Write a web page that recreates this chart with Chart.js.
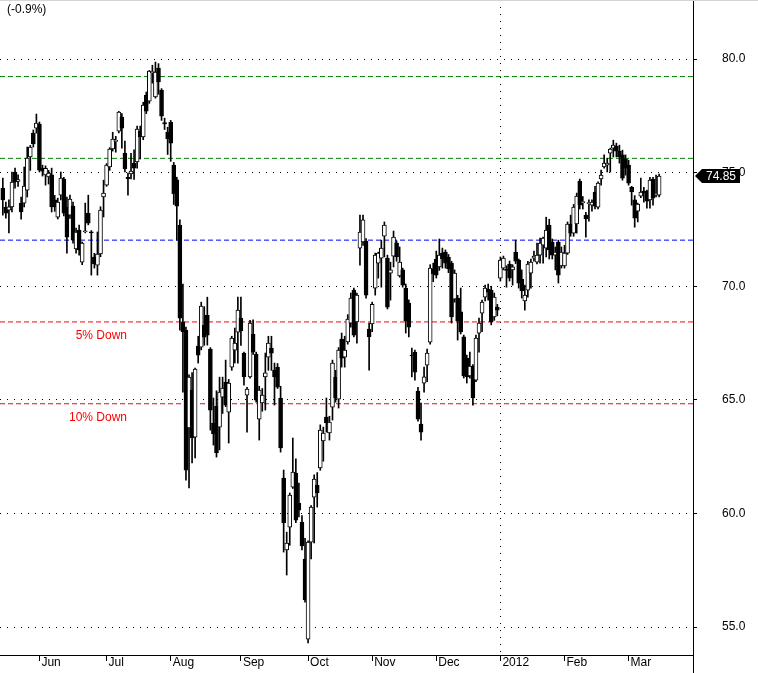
<!DOCTYPE html>
<html>
<head>
<meta charset="utf-8">
<script src="https://cdn.jsdelivr.net/npm/chart.js@4/dist/chart.umd.min.js"></script>
<style>
  html, body { margin: 0; padding: 0; background: #fff; }
  canvas { display: block; }
</style>
</head>
<body>
<canvas id="myChart" width="758" height="673"></canvas>
<script>
// daily prices, one entry per trading day (late May 2011 .. mid Mar 2012)
const openPrices = [
  74.32,73.49,73.35,73.49,75.03,74.62,73.66,73.66,74.23,75.69,76.74,76.96,
  77.14,75.20,74.90,74.81,74.90,73.80,73.04,74.01,74.72,73.49,73.13,73.53,
  71.64,72.47,71.06,72.40,73.22,72.39,71.29,70.93,71.42,73.93,74.45,75.25,
  76.04,76.38,76.83,77.45,75.86,74.80,74.94,75.42,75.47,76.83,76.57,78.41,
  78.15,79.40,78.33,79.60,78.64,77.20,76.79,77.23,75.33,74.68,72.69,68.43,
  68.07,63.76,65.43,63.36,67.37,67.32,68.29,68.73,67.24,63.98,64.73,63.80,
  65.12,65.78,64.46,66.44,67.19,67.98,68.60,67.06,65.21,66.01,67.90,67.02,
  64.15,64.86,66.01,66.88,67.28,66.31,66.44,65.08,61.56,58.39,59.40,61.16,
  61.78,60.46,59.62,57.99,54.47,58.74,60.72,61.25,62.00,63.19,64.24,63.54,
  64.68,66.00,65.03,67.68,66.88,67.55,68.38,69.83,68.43,71.68,71.95,71.99,
  68.12,68.34,69.92,71.02,71.24,72.21,71.24,70.58,71.33,71.90,70.45,70.72,
  69.92,69.26,66.97,67.10,65.39,63.93,65.74,66.53,67.54,70.76,71.20,70.85,
  71.46,71.50,71.29,71.02,69.43,69.48,68.87,67.77,66.84,66.05,66.49,65.87,
  67.94,68.82,69.52,69.88,69.83,68.65,69.08,70.36,70.80,70.74,70.98,70.72,
  71.50,71.15,70.32,69.35,69.83,70.58,71.24,71.06,71.37,71.81,71.68,72.69,
  71.95,71.37,71.95,70.89,70.89,71.46,72.74,72.34,72.74,74.63,73.68,73.13,
  73.64,73.57,74.15,73.48,74.72,75.25,75.33,75.86,76.08,76.17,75.95,75.78,
  75.60,75.33,74.36,73.80,73.31,73.97,74.19,74.19,73.80,74.72,74.01,74.01
];
const highPrices = [
  74.76,73.70,73.80,75.03,75.20,74.90,73.93,75.25,76.13,76.20,76.88,77.58,
  77.23,75.33,75.30,75.10,75.20,74.00,73.88,75.03,74.80,73.93,74.01,73.70,
  72.56,72.69,71.95,73.66,74.01,72.45,71.45,72.39,73.50,74.67,75.40,76.10,
  76.78,76.60,77.70,77.60,76.39,74.98,75.85,76.00,77.05,77.05,78.10,78.55,
  79.50,79.73,79.87,79.80,78.70,77.40,77.00,77.30,75.45,74.80,72.92,70.10,
  68.20,66.10,66.20,66.40,67.80,69.30,69.10,69.52,67.30,65.08,65.40,66.00,
  66.00,66.75,65.90,67.80,68.16,69.52,69.52,67.10,65.55,68.50,68.52,67.10,
  65.60,65.50,67.06,67.80,67.80,66.62,66.60,65.60,61.91,59.18,60.90,63.32,
  62.40,61.34,59.91,58.90,58.80,60.35,61.70,61.80,63.90,63.80,65.08,64.28,
  66.75,66.30,67.30,67.94,67.80,68.75,69.70,69.92,69.70,73.13,73.13,72.10,
  68.38,69.30,71.46,71.50,72.03,72.83,71.37,71.06,72.43,72.00,71.73,70.80,
  70.10,69.40,67.28,67.19,65.55,64.86,66.44,67.24,70.95,71.02,71.55,72.08,
  71.68,71.60,71.40,71.10,70.72,69.60,69.92,67.85,66.97,67.10,66.55,67.85,
  68.60,69.39,70.05,70.10,70.00,69.70,69.20,71.29,71.33,70.90,71.11,70.95,
  72.03,71.20,70.72,70.05,71.10,71.20,71.55,71.90,72.12,72.17,73.04,72.95,
  72.08,71.73,72.03,71.73,71.80,72.83,73.13,73.60,74.10,74.72,73.95,73.25,
  73.80,73.80,74.40,74.60,75.11,75.78,75.64,76.08,76.43,76.30,76.21,75.99,
  75.78,75.55,74.40,73.99,73.66,74.76,74.36,74.23,74.80,74.80,74.89,74.94
];
const lowPrices = [
  73.13,73.00,72.35,73.27,74.32,74.40,72.95,73.49,73.93,75.10,76.13,76.74,
  75.03,74.85,74.45,74.50,73.27,73.30,72.96,73.80,73.10,71.46,72.99,71.90,
  71.46,71.37,70.95,72.35,72.70,70.49,70.80,70.49,71.30,73.05,74.40,75.10,
  75.95,75.90,76.75,76.08,75.03,74.01,74.72,74.70,75.20,75.60,76.45,77.60,
  78.05,78.94,78.28,78.45,77.30,76.90,75.80,75.50,73.60,72.03,68.07,65.34,
  61.47,61.12,62.22,62.44,66.62,67.20,67.40,67.41,63.67,63.01,62.48,62.80,
  64.40,64.70,63.10,66.30,66.62,66.62,67.40,65.65,63.58,65.95,67.00,64.90,
  63.23,64.50,64.55,66.30,66.30,64.77,65.50,62.70,58.30,57.29,58.60,61.10,
  59.60,59.85,58.40,56.10,54.30,58.00,58.70,60.28,61.90,62.30,63.58,63.23,
  64.11,64.90,64.64,66.44,66.44,67.45,68.20,67.77,67.50,70.93,71.80,69.48,
  66.31,68.00,69.61,70.36,69.96,71.29,69.00,69.39,70.85,71.10,70.40,69.96,
  67.94,67.77,66.01,65.87,64.06,63.23,65.34,65.80,67.45,70.20,70.36,70.70,
  70.80,70.80,70.60,68.38,69.30,67.63,67.90,65.96,65.74,65.96,64.77,65.80,
  67.10,68.00,69.35,69.39,68.30,68.50,68.70,70.23,70.72,69.96,70.23,70.05,
  71.00,69.92,69.48,68.95,69.52,69.92,71.10,70.98,71.02,71.02,71.29,71.20,
  71.20,70.72,70.14,70.80,70.80,71.40,72.20,72.20,72.34,73.40,73.40,72.16,
  72.87,73.30,73.40,73.40,74.45,75.20,75.03,75.03,75.69,75.69,75.42,74.67,
  74.89,74.45,73.57,72.60,72.83,73.90,73.70,73.44,73.44,73.57,73.93,73.93
];
const closePrices = [
  73.80,73.22,73.50,74.59,74.59,74.70,73.27,74.41,75.64,76.13,76.26,77.18,
  75.11,75.07,75.19,74.98,73.49,73.49,73.70,74.76,73.22,72.16,73.84,72.03,
  72.39,71.60,71.90,72.43,72.78,72.35,70.98,71.42,73.35,74.10,75.33,76.04,
  76.48,76.42,77.67,76.96,75.16,74.74,75.07,75.20,76.92,76.57,77.98,77.71,
  79.47,79.44,79.43,78.99,77.49,77.15,76.48,76.30,74.06,73.53,68.60,67.99,
  61.91,66.00,63.32,66.35,66.97,69.13,67.76,67.85,64.55,63.50,62.66,65.34,
  65.52,64.77,65.74,67.72,67.50,68.95,68.03,66.01,65.47,68.38,67.10,64.99,
  65.43,65.21,66.19,67.50,67.06,66.01,65.56,62.88,59.58,58.70,60.81,61.82,
  59.71,60.15,58.57,56.19,58.74,60.28,61.51,60.90,63.67,63.54,63.98,64.02,
  66.62,65.08,67.19,66.84,67.19,68.56,69.48,67.85,69.61,72.39,72.92,69.61,
  67.77,69.21,71.37,71.46,71.68,72.69,69.08,70.72,72.17,71.29,71.06,70.05,
  68.47,68.20,66.93,66.22,64.15,63.58,66.01,67.06,70.80,70.54,70.49,71.37,
  71.20,71.02,70.76,68.65,70.58,68.47,67.99,66.05,66.01,66.49,65.08,67.72,
  68.38,69.30,69.92,69.74,68.43,69.52,68.95,71.15,71.24,70.70,70.36,70.85,
  71.11,70.14,69.79,69.61,70.98,71.06,71.33,71.37,71.90,72.12,72.47,71.60,
  71.37,71.50,70.49,71.50,71.46,72.74,72.34,73.48,73.97,73.57,73.72,72.96,
  73.68,73.70,73.53,74.54,74.89,75.42,75.42,76.04,76.21,75.95,75.69,74.76,
  75.20,74.54,74.15,73.00,73.62,74.15,74.10,73.75,74.67,73.88,74.10,74.85
];

// first trading day of each month (index into the arrays above)
const monthTickIdx = [12, 34, 55, 78, 100, 121, 142, 163, 184, 205];
const monthLabels = ['Jun', 'Jul', 'Aug', 'Sep', 'Oct', 'Nov', 'Dec', '2012', 'Feb', 'Mar'];
const yearStartIdx = 163;

const yTickValues = [55, 60, 65, 70, 75, 80];

// horizontal reference levels
const levelValues = [79.23, 75.63, 72.03, 68.43, 64.83];
const levelNotes = ['', '', '', '5% Down', '10% Down'];
const levelColors = ['#008000', '#008000', '#0000ff', '#ff0000', '#ff0000'];

const changeText = '(-0.9%)';

const xMin = -0.92, xMax = 226.1;
const FONT = "'Liberation Sans', Arial, sans-serif";

const idx = closePrices.map((c, i) => i);
const bodyData = idx.map(i => ({ x: i, y: [openPrices[i], closePrices[i]] }));
const wickData = idx.map(i => ({ x: i, y: [lowPrices[i], highPrices[i]] }));
const bodyColors = idx.map(i => closePrices[i] > openPrices[i] ? '#ffffff' : '#000000');

const levelSets = levelValues.map((v, k) => ({
  type: 'line',
  data: [{ x: xMin, y: v }, { x: xMax, y: v }],
  borderColor: levelColors[k],
  borderWidth: 1,
  borderDash: [5, 3],
  pointRadius: 0,
  fill: false
}));

const extras = {
  id: 'extras',
  afterDatasetsDraw(chart) {
    const ctx = chart.ctx, y = chart.scales.y;
    ctx.save();
    ctx.font = '12px ' + FONT;
    ctx.textAlign = 'right';
    ctx.textBaseline = 'middle';
    levelValues.forEach((v, k) => {
      if (!levelNotes[k]) return;
      ctx.fillStyle = levelColors[k];
      ctx.fillText(levelNotes[k], 127, y.getPixelForValue(v) + 14);
    });
    ctx.restore();
  },
  afterDraw(chart) {
    const ctx = chart.ctx, area = chart.chartArea, y = chart.scales.y;
    ctx.save();
    // frame bits
    ctx.fillStyle = '#d4d4d4';
    ctx.fillRect(0, 0, chart.width, 1);
    ctx.strokeStyle = '#000';
    ctx.lineWidth = 1;
    ctx.beginPath();
    ctx.moveTo(Math.round(area.right) + 0.5, area.bottom);
    ctx.lineTo(Math.round(area.right) + 0.5, chart.height);
    ctx.stroke();

    // change text top left
    ctx.fillStyle = '#000';
    ctx.font = '12px ' + FONT;
    ctx.textAlign = 'left';
    ctx.textBaseline = 'middle';
    ctx.fillText(changeText, 7, 10);

    // last price tag
    const last = closePrices[closePrices.length - 1];
    const py = Math.round(y.getPixelForValue(last));
    const x0 = area.right + 2;
    ctx.fillStyle = '#000';
    ctx.beginPath();
    ctx.moveTo(x0, py);
    ctx.lineTo(x0 + 7, py - 7);
    ctx.lineTo(x0 + 45, py - 7);
    ctx.lineTo(x0 + 45, py + 7);
    ctx.lineTo(x0 + 7, py + 7);
    ctx.closePath();
    ctx.fill();
    ctx.fillStyle = '#fff';
    ctx.fillText(last.toFixed(2), x0 + 11, py + 1);
    ctx.restore();
  }
};

// eslint-disable-next-line
const myChart = new Chart(document.getElementById('myChart'), {
  type: 'bar',
  data: {
    datasets: [
      {
        label: 'body',
        data: bodyData,
        backgroundColor: bodyColors,
        borderColor: '#000',
        borderWidth: 1,
        borderSkipped: false,
        barThickness: 4,
        minBarLength: 1,
        grouped: false
      },
      {
        label: 'wick',
        data: wickData,
        backgroundColor: '#000',
        borderWidth: 0,
        barThickness: 1,
        grouped: false
      },
      ...levelSets
    ]
  },
  options: {
    responsive: false,
    devicePixelRatio: 1,
    animation: false,
    layout: { padding: 0 },
    plugins: {
      legend: { display: false },
      tooltip: { enabled: false }
    },
    scales: {
      x: {
        type: 'linear',
        min: xMin,
        max: xMax,
        offset: false,
        afterBuildTicks: s => { s.ticks = monthTickIdx.map(v => ({ value: v })); },
        afterFit: s => { s.height = 18; s.paddingLeft = 0; s.paddingRight = 0; },
        grid: {
          offset: false,
          color: c => (c.tick && c.tick.value === yearStartIdx) ? '#000' : 'rgba(0,0,0,0)',
          tickColor: '#000',
          tickLength: 6,
          tickBorderDash: []
        },
        border: { display: true, color: '#000', dash: [1, 6] },
        ticks: {
          autoSkip: false,
          maxRotation: 0,
          align: 'start',
          labelOffset: 2,
          padding: -6,
          color: '#000',
          font: { family: FONT, size: 12 },
          callback: v => monthLabels[monthTickIdx.indexOf(v)]
        }
      },
      y: {
        position: 'right',
        min: 53.77,
        max: 82.6,
        afterBuildTicks: s => { s.ticks = yTickValues.map(v => ({ value: v })); },
        afterFit: s => { s.width = 65; s.paddingTop = 0; s.paddingBottom = 0; },
        grid: {
          color: '#000',
          tickColor: '#000',
          tickLength: 4,
          tickBorderDash: []
        },
        border: { display: true, color: '#000', dash: [1, 6] },
        ticks: {
          padding: 25,
          color: '#000',
          font: { family: FONT, size: 12 },
          callback: v => v.toFixed(1)
        }
      }
    }
  },
  plugins: [extras]
});
</script>
</body>
</html>
